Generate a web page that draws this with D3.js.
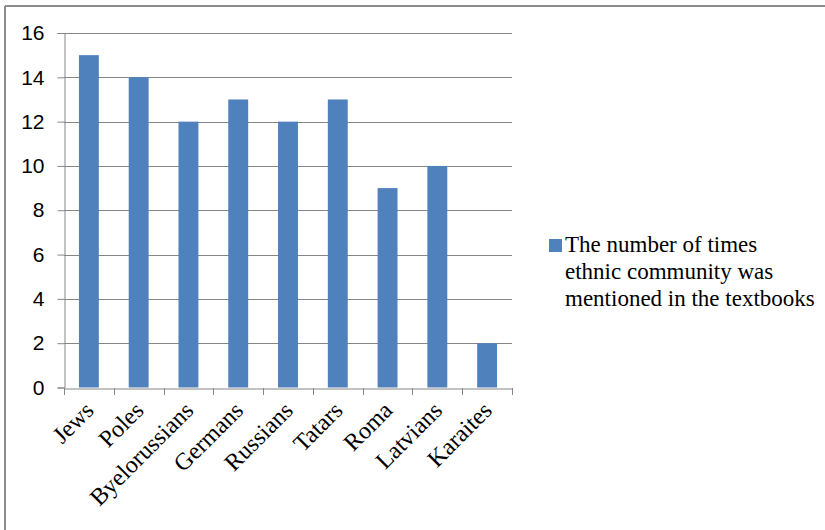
<!DOCTYPE html>
<html><head><meta charset="utf-8">
<script src="https://cdn.jsdelivr.net/npm/d3@7"></script>
<style>body{margin:0;background:#fff}</style>
</head><body>
<script>
const categories = ["Jews","Poles","Byelorussians","Germans","Russians","Tatars","Roma","Latvians","Karaites"];
const values = [15,14,12,13,12,13,9,10,2];
const yTicks = [0,2,4,6,8,10,12,14,16];
const seriesName = ["The number of times","ethnic community was","mentioned in the textbooks"];

(function(){
const W=825,H=530;
const svg=d3.select("body").append("svg").attr("width",W).attr("height",H);
svg.append("rect").attr("width",W).attr("height",H).attr("fill","#fff");
svg.append("line").attr("x1",5).attr("x2",W).attr("y1",6).attr("y2",6).attr("stroke","#8c8c8c").attr("stroke-width",2);
svg.append("line").attr("x1",5).attr("x2",5).attr("y1",6).attr("y2",H).attr("stroke","#8c8c8c").attr("stroke-width",2);

const pLeft=64,pRight=512,pTop=33,pBottom=387.5;
const x=d3.scaleBand().domain(categories).range([pLeft,pRight]).paddingInner(0.6).paddingOuter(0.3);
const y=d3.scaleLinear().domain([0,16]).range([pBottom,pTop]);

svg.append("g").selectAll("line").data(yTicks.filter(d=>d>0)).join("line")
 .attr("x1",pLeft).attr("x2",pRight).attr("y1",d=>Math.round(y(d))+0.5).attr("y2",d=>Math.round(y(d))+0.5)
 .attr("stroke","#868686").attr("stroke-width",1);

svg.append("g").selectAll("rect").data(values).join("rect")
 .attr("x",(d,i)=>x(categories[i])).attr("width",x.bandwidth())
 .attr("y",d=>y(d)).attr("height",d=>pBottom-y(d)).attr("fill","#4f81bd");

const ya=svg.append("g").attr("transform",`translate(${pLeft+0.5},0)`)
 .call(d3.axisLeft(y).tickValues(yTicks).tickSize(7).tickPadding(13));
ya.select(".domain").attr("stroke","#868686");
ya.selectAll(".tick line").attr("stroke","#868686");
ya.selectAll(".tick text").attr("font-family","'Liberation Sans', Arial, sans-serif").attr("font-size",21).attr("fill","#000");

const xb=d3.scaleBand().domain(categories).range([pLeft,pRight]);
const xa=svg.append("g").attr("transform",`translate(0,${Math.round(pBottom)+0.5})`)
 .call(d3.axisBottom(xb).tickSize(0).tickFormat(""));
xa.select(".domain").attr("stroke","#868686");
const bounds=categories.map(d=>xb(d)).concat([pRight]);
svg.append("g").selectAll("line").data(bounds).join("line")
 .attr("x1",d=>Math.round(d)+0.5).attr("x2",d=>Math.round(d)+0.5)
 .attr("y1",Math.round(pBottom)).attr("y2",Math.round(pBottom)+7)
 .attr("stroke","#868686");
svg.append("g").selectAll("text").data(categories).join("text")
 .attr("transform",d=>`translate(${x(d)+x.bandwidth()/2-3},${pBottom+15}) rotate(-45)`)
 .attr("text-anchor","end").attr("dy","0.55em")
 .attr("font-family","'Liberation Serif', 'Times New Roman', serif").attr("font-size",24).attr("fill","#000")
 .text(d=>d);

svg.append("rect").attr("x",549).attr("y",239).attr("width",13).attr("height",13).attr("fill","#4f81bd");
svg.append("g").selectAll("text").data(seriesName).join("text")
 .attr("x",565).attr("y",(d,i)=>252+i*27)
 .attr("font-family","'Liberation Serif', 'Times New Roman', serif").attr("font-size",23).attr("fill","#000")
 .text(d=>d);
})();
</script>
</body></html>
